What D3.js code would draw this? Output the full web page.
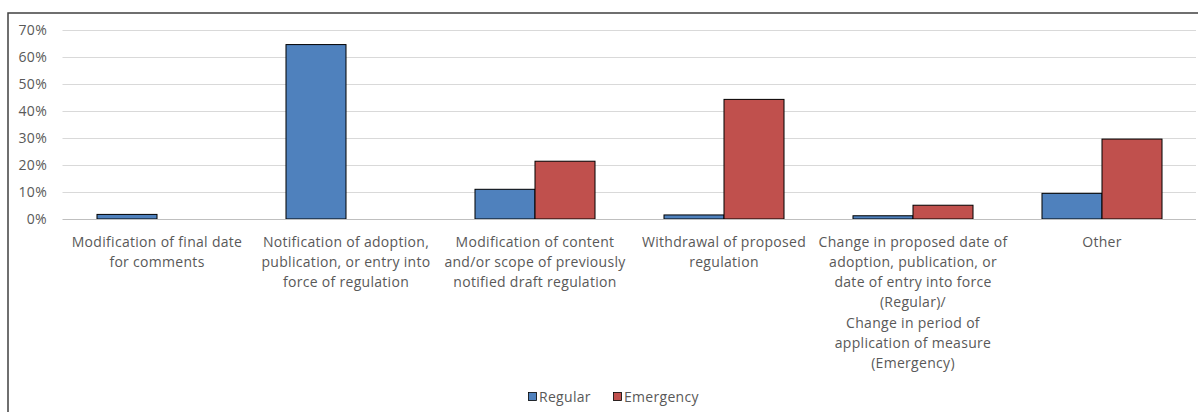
<!DOCTYPE html>
<html>
<head>
<meta charset="utf-8">
<script src="https://cdn.jsdelivr.net/npm/d3@7"></script>
<style>
  html, body { margin: 0; padding: 0; background: #fff; }
  svg { display: block; font-family: "Open Sans", sans-serif; }
</style>
</head>
<body>
<svg id="chart" width="1198" height="412"></svg>
<script>
// Category labels, one entry per line of the wrapped label
const categories = [
  ["Modification of final date", "for comments"],
  ["Notification of adoption,", "publication, or entry into", "force of regulation"],
  ["Modification of content", "and/or scope of previously", "notified draft regulation"],
  ["Withdrawal of proposed", "regulation"],
  ["Change in proposed date of", "adoption, publication, or", "date of entry into force", "(Regular)/", "Change in period of", "application of measure", "(Emergency)"],
  ["Other"]
];
const seriesNames = ["Regular", "Emergency"];
const regularValues = [0.017, 0.646, 0.110, 0.015, 0.012, 0.095];
const emergencyValues = [0, 0, 0.214, 0.443, 0.051, 0.296];
const yTicks = [0, 0.1, 0.2, 0.3, 0.4, 0.5, 0.6, 0.7];
const colors = ["#4F81BD", "#C0504D"];

const FONT = "'Open Sans', sans-serif";
const FS = 14;
const LS = 0.3;

const svg = d3.select("#chart");
const catKeys = categories.map((c, i) => i);

const x0 = d3.scaleBand().domain(catKeys).range([62.5, 1196.5])
  .paddingInner(0.365).paddingOuter(0.1825);
const x1 = d3.scaleBand().domain(seriesNames).range([0, x0.bandwidth()]);
const y = d3.scaleLinear().domain([0, 0.7]).range([219, 30]);

// Chart area border (only top and left edges fall inside the view)
svg.append("rect")
  .attr("x", 8).attr("y", 13).attr("width", 1300).attr("height", 500)
  .attr("fill", "none").attr("stroke", "#404040").attr("stroke-width", 1.5);

// Gridlines
svg.append("g").selectAll("line").data(yTicks.slice(1)).join("line")
  .attr("x1", 62.5).attr("x2", 1196)
  .attr("y1", d => Math.round(y(d)) + 0.5).attr("y2", d => Math.round(y(d)) + 0.5)
  .attr("stroke", "#d9d9d9").attr("stroke-width", 1);

// Y axis labels
const yAxis = d3.axisLeft(y).tickValues(yTicks).tickFormat(d3.format(".0%")).tickSize(0).tickPadding(0);
const yg = svg.append("g").attr("transform", "translate(47,0)").call(yAxis);
yg.select(".domain").remove();
yg.selectAll("text").attr("fill", "#595959").attr("font-size", FS)
  .attr("font-family", FONT).attr("letter-spacing", LS);

// Bars
const rows = catKeys.map(i => ({ i, values: [regularValues[i], emergencyValues[i]] }));
const groups = svg.append("g").selectAll("g").data(rows).join("g")
  .attr("transform", d => `translate(${x0(d.i)},0)`);
groups.selectAll("rect")
  .data(d => d.values.map((v, k) => ({ v, k })).filter(e => e.v > 0))
  .join("rect")
  .attr("x", e => x1(seriesNames[e.k]))
  .attr("width", x1.bandwidth())
  .attr("y", e => y(e.v))
  .attr("height", e => y(0) - y(e.v))
  .attr("fill", e => colors[e.k])
  .attr("stroke", "#000").attr("stroke-width", 1);

// Baseline
svg.append("line")
  .attr("x1", 62.5).attr("x2", 1196).attr("y1", 219.5).attr("y2", 219.5)
  .attr("stroke", "#bfbfbf").attr("stroke-width", 1);

// Category labels
const xg = svg.append("g");
categories.forEach((lines, i) => {
  const cx = x0(i) + x0.bandwidth() / 2;
  const t = xg.append("text").attr("text-anchor", "middle")
    .attr("fill", "#595959").attr("font-size", FS).attr("font-family", FONT)
    .attr("letter-spacing", LS);
  lines.forEach((ln, j) => {
    t.append("tspan").attr("x", cx).attr("y", 246.5 + j * 20.3).text(ln);
  });
});

// Legend
const legend = svg.append("g");
const legendX = [528, 613];
seriesNames.forEach((name, k) => {
  legend.append("rect").attr("x", legendX[k] + 0.5).attr("y", 392.5).attr("width", 8).attr("height", 8)
    .attr("fill", colors[k]).attr("stroke", "#000").attr("stroke-width", 0.8);
  legend.append("text").attr("x", legendX[k] + 11).attr("y", 401.5)
    .attr("fill", "#595959").attr("font-size", FS).attr("font-family", FONT)
    .attr("letter-spacing", LS).text(name);
});
</script>
</body>
</html>
